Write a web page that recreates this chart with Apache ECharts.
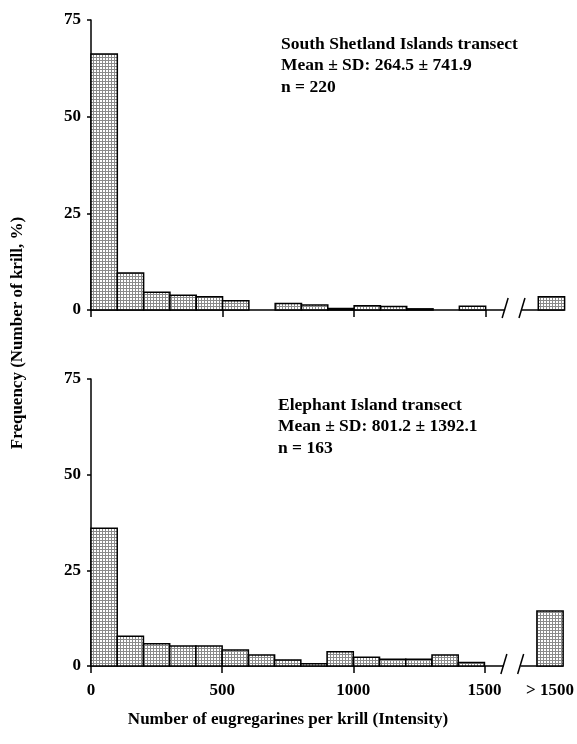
<!DOCTYPE html>
<html>
<head>
<meta charset="utf-8">
<script src="https://cdn.jsdelivr.net/npm/echarts@6/dist/echarts.min.js"></script>
<style>
html, body { margin: 0; padding: 0; background: #fff; }
#chart { width: 577px; height: 744px; }
</style>
</head>
<body>
<div id="chart"></div>
<script>
// bins of 100 eugregarines per krill
var binStarts = [0, 100, 200, 300, 400, 500, 600, 700, 800, 900, 1000, 1100, 1200, 1300, 1400];
var binWidth = 100;
// South Shetland Islands transect (% of krill)
var ssiFreq = [66.2, 9.6, 4.6, 3.8, 3.4, 2.4, 0, 1.7, 1.3, 0.4, 1.1, 0.9, 0.3, 0, 1.0];
var ssiOver = 3.4;
// Elephant Island transect (% of krill)
var eiFreq = [36.0, 7.8, 5.8, 5.2, 5.2, 4.2, 2.9, 1.6, 0.6, 3.7, 2.3, 1.75, 1.75, 2.9, 0.9];
var eiOver = 14.4;
// the "> 1500" bar sits after the axis break
var overSlot = 1700;
var axisEnd = 1800;
var breakAt = [1574, 1638];
var xTicks = [0, 500, 1000, 1500];
var xLabels = ['0', '500', '1000', '1500', '> 1500'];
var yTicks = [0, 25, 50, 75];

var ssiText = ['South Shetland Islands transect', 'Mean \u00b1 SD: 264.5 \u00b1 741.9', 'n = 220'];
var eiText = ['Elephant Island transect', 'Mean \u00b1 SD: 801.2 \u00b1 1392.1', 'n = 163'];

var FONT = '"Liberation Serif", "Times New Roman", serif';

// stippled fill like the print
function makeDots() {
    var c = document.createElement('canvas');
    c.width = 3; c.height = 3;
    var ctx = c.getContext('2d');
    ctx.fillStyle = '#8a8a8a';
    ctx.fillRect(0, 0, 3, 3);
    ctx.fillStyle = '#ffffff';
    ctx.fillRect(1, 1, 2, 2);
    return c;
}
var dots = { image: makeDots(), repeat: 'repeat' };

function histData(freq, over) {
    var out = binStarts.map(function (s, i) { return [s, s + binWidth, freq[i]]; });
    out.push([overSlot, overSlot + binWidth, over]);
    return out;
}

function renderBar(params, api) {
    var v = api.value(2);
    if (!v) return null;
    var p0 = api.coord([api.value(0), v]);
    var p1 = api.coord([api.value(1), 0]);
    return {
        type: 'rect',
        shape: { x: p0[0], y: p0[1], width: p1[0] - p0[0], height: p1[1] - p0[1] },
        style: { fill: dots, stroke: '#000', lineWidth: 1.5 }
    };
}

// x axis line with the break slashes
function renderAxis(params, api) {
    var a = api.coord([0, 0]);
    var b = api.coord([breakAt[0], 0]);
    var c = api.coord([breakAt[1], 0]);
    var d = api.coord([axisEnd, 0]);
    var st = { stroke: '#000', lineWidth: 1.5 };
    return {
        type: 'group',
        children: [
            { type: 'line', shape: { x1: a[0], y1: a[1], x2: b[0], y2: b[1] }, style: st },
            { type: 'line', shape: { x1: c[0], y1: c[1], x2: d[0], y2: d[1] }, style: st },
            { type: 'line', shape: { x1: b[0] - 3, y1: b[1] + 8, x2: b[0] + 3, y2: b[1] - 12 }, style: st },
            { type: 'line', shape: { x1: c[0] - 3, y1: c[1] + 8, x2: c[0] + 3, y2: c[1] - 12 }, style: st }
        ]
    };
}

function xAxisFor(idx, withLabels) {
    return {
        type: 'value', gridIndex: idx, min: 0, max: axisEnd,
        axisLine: { show: false },
        splitLine: { show: false },
        axisTick: { show: true, customValues: xTicks, length: 7, lineStyle: { color: '#000', width: 1.5 } },
        axisLabel: {
            show: withLabels,
            customValues: xTicks.concat([overSlot + binWidth / 2]),
            formatter: function (val) {
                var i = xTicks.indexOf(val);
                return i >= 0 ? xLabels[i] : xLabels[xLabels.length - 1];
            },
            color: '#000', fontFamily: FONT, fontWeight: 'bold', fontSize: 17, margin: 16
        }
    };
}

function yAxisFor(idx) {
    return {
        type: 'value', gridIndex: idx, min: 0, max: 75, interval: 25,
        axisLine: { show: true, lineStyle: { color: '#000', width: 1.5 } },
        axisTick: { show: true, length: 4, lineStyle: { color: '#000', width: 1.5 } },
        splitLine: { show: false },
        axisLabel: {
            color: '#000', fontFamily: FONT, fontWeight: 'bold', fontSize: 17, margin: 10,
            formatter: function (v) { return yTicks.indexOf(v) >= 0 ? String(v) : ''; }
        }
    };
}

function noteLines(lines, x, y) {
    return lines.map(function (t, i) {
        return {
            type: 'text', left: x, top: y + i * 21.5,
            style: { text: t, fill: '#000', font: 'bold 17.5px ' + FONT }
        };
    });
}

var chart = echarts.init(document.getElementById('chart'));
chart.setOption({
    animation: false,
    backgroundColor: '#fff',
    grid: [
        { left: 91, top: 20, width: 473.6, height: 290 },
        { left: 91, top: 379, width: 473.6, height: 287 }
    ],
    xAxis: [xAxisFor(0, false), xAxisFor(1, true)],
    yAxis: [yAxisFor(0), yAxisFor(1)],
    series: [
        { type: 'custom', xAxisIndex: 0, yAxisIndex: 0, renderItem: renderAxis, data: [[0]], silent: true, z: 1 },
        { type: 'custom', xAxisIndex: 1, yAxisIndex: 1, renderItem: renderAxis, data: [[0]], silent: true, z: 1 },
        { type: 'custom', name: 'South Shetland Islands', xAxisIndex: 0, yAxisIndex: 0, renderItem: renderBar, data: histData(ssiFreq, ssiOver), z: 2 },
        { type: 'custom', name: 'Elephant Island', xAxisIndex: 1, yAxisIndex: 1, renderItem: renderBar, data: histData(eiFreq, eiOver), z: 2 }
    ],
    graphic: noteLines(ssiText, 281, 35).concat(noteLines(eiText, 278, 396)).concat([
        {
            type: 'text', x: 18, y: 333, rotation: Math.PI / 2,
            style: { text: 'Frequency (Number of krill, %)', fill: '#000', font: 'bold 17px ' + FONT, align: 'center', verticalAlign: 'middle' }
        },
        {
            type: 'text', x: 288, y: 720,
            style: { text: 'Number of eugregarines per krill (Intensity)', fill: '#000', font: 'bold 17px ' + FONT, align: 'center', verticalAlign: 'middle' }
        }
    ])
});
</script>
</body>
</html>
